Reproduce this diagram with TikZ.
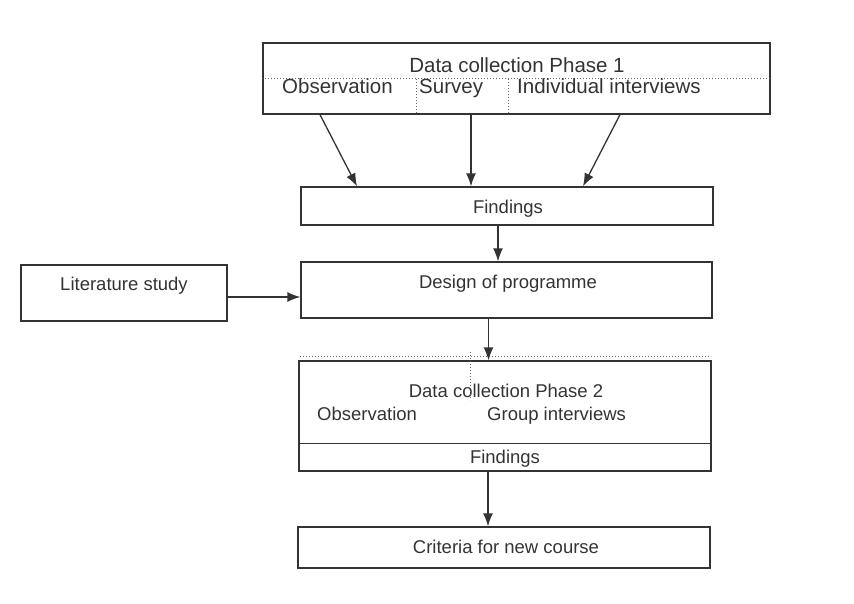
\documentclass[tikz,border=0pt]{standalone}
\usepackage{fontspec}
\setmainfont{Liberation Sans}
\usetikzlibrary{arrows.meta}
\definecolor{ink}{HTML}{333333}
\tikzset{
  box/.style={draw=ink, line width=1.3pt, inner sep=0pt, fill=none},
  lbl/.style={text=ink, inner sep=0pt, font=\fontsize{18.5}{22}\selectfont},
  biglbl/.style={text=ink, inner sep=0pt, font=\fontsize{20.5}{24}\selectfont},
  arr/.style={draw=ink, line width=1.3pt, -{Latex[length=13pt,width=10pt]}},
  dots/.style={draw=ink!75, line width=1pt, dotted}
}
\begin{document}
\begin{tikzpicture}[x=1pt,y=-1pt]
\useasboundingbox (0,0) rectangle (854,603);
% boxes
\node[box, minimum width=507pt, minimum height=71pt] (phase1) at (516.5,78.5) {};
\node[box, minimum width=412pt, minimum height=38pt] (findings) at (507,206) {};
\node[box, minimum width=411pt, minimum height=56pt] (design) at (506.5,290) {};
\node[box, minimum width=206pt, minimum height=56pt] (lit) at (124,293) {};
\node[box, minimum width=412pt, minimum height=110pt] (phase2) at (505,416) {};
\node[box, minimum width=412pt, minimum height=41pt] (criteria) at (504,547.5) {};
% phase 1 inner lines
\draw[dots] (phase1.west) -- (phase1.east);
\coordinate (v1) at (416,79);
\coordinate (v2) at (508,79);
\draw[dots] (v1) -- (v1 |- phase1.south);
\draw[dots] (v2) -- (v2 |- phase1.south);
% phase 1 texts
\node[biglbl, anchor=base] (p1t) at (517,72) {Data collection Phase 1};
\node[biglbl, anchor=base west] (p1a) at (282,93) {Observation};
\node[biglbl, anchor=base west] (p1b) at (419,93) {Survey};
\node[biglbl, anchor=base west] (p1c) at (517,93) {Individual interviews};
% other texts
\node[lbl, anchor=base] (ft) at (508,213) {Findings};
\node[lbl, anchor=base] (dt) at (508,288) {Design of programme};
\node[lbl, anchor=base] (lt) at (124,290) {Literature study};
\node[lbl, anchor=base] (p2t) at (506,397) {Data collection Phase 2};
\node[lbl, anchor=base west] (p2a) at (317,420) {Observation};
\node[lbl, anchor=base west] (p2b) at (487,420) {Group interviews};
\node[lbl, anchor=base] (p2f) at (505,463) {Findings};
\node[lbl, anchor=base] (ct) at (506,553) {Criteria for new course};
% phase 2 divider and dotted lines
\draw[draw=ink, line width=1.3pt] ([yshift=28pt]phase2.south west) -- ([yshift=28pt]phase2.south east);
\coordinate (h1) at (300,356);
\coordinate (h2) at (711,356);
\draw[dots] (h1) -- (h2);
\coordinate (v3) at (470,352);
\coordinate (v4) at (470,400);
\draw[dots] (v3) -- (v4);
% arrows
\draw[arr] ([xshift=-196.5pt]phase1.south) -- ([xshift=-150pt]findings.north);
\draw[arr] ([xshift=-45.5pt]phase1.south) -- ([xshift=-36pt]findings.north);
\draw[arr] ([xshift=103.5pt]phase1.south) -- ([xshift=76pt]findings.north);
\draw[arr] ([xshift=-9pt]findings.south) -- ([xshift=-9pt]findings.south |- design.north);
\draw[arr] ([yshift=-4pt]lit.east) -- ([yshift=-4pt]lit.east -| design.west);
\draw[arr] ([xshift=-18pt]design.south) -- ([xshift=-18pt]design.south |- phase2.north);
\draw[arr] ([xshift=-17pt]phase2.south) -- ([xshift=-17pt]phase2.south |- criteria.north);
\end{tikzpicture}
\end{document}
